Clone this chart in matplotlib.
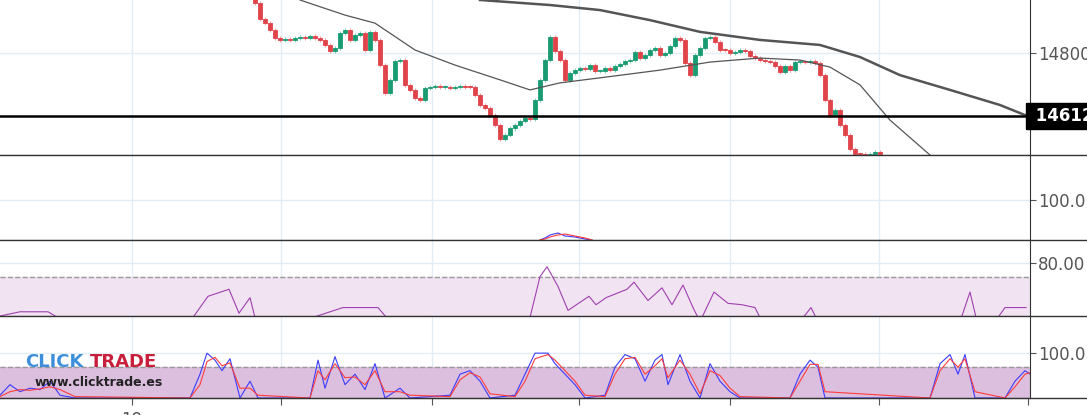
import numpy as np
import matplotlib
matplotlib.use("Agg")
import matplotlib.pyplot as plt
from matplotlib.lines import Line2D

# candle closes, one every 5 px starting at candle index 0
closes = [14950, 14900, 14890, 14870, 14845, 14840, 14842, 14838, 14845, 14848,
          14845, 14850, 14846, 14838, 14825, 14805, 14815, 14860, 14870, 14840,
          14855, 14860, 14810, 14862, 14840, 14765, 14680, 14720, 14775, 14778,
          14705, 14690, 14665, 14660, 14695, 14700, 14702, 14698, 14700, 14697,
          14700, 14702, 14700, 14698, 14675, 14645, 14635, 14615, 14585, 14545,
          14555, 14575, 14585, 14598, 14605, 14603, 14660, 14720, 14780, 14848,
          14805, 14778, 14720, 14740, 14750, 14755, 14752, 14763, 14745, 14745,
          14755, 14750, 14760, 14768, 14775, 14780, 14803, 14785, 14795, 14808,
          14815, 14795, 14800, 14822, 14845, 14840, 14770, 14735, 14795, 14815,
          14845, 14848, 14832, 14810, 14808, 14800, 14803, 14808, 14805, 14790,
          14785, 14778, 14775, 14772, 14762, 14742, 14762, 14750, 14772, 14773,
          14772, 14775, 14770, 14735, 14660, 14615, 14630, 14585, 14555, 14515,
          14500, 14498, 14497, 14500, 14505, 14498]
first_open = 14990

ma_fast_x = [9, 18, 24, 32, 40, 49, 55, 61, 69, 81, 91, 101, 109, 115, 121, 127, 135]
ma_fast_y = [14958, 14913, 14889, 14809, 14764, 14720, 14690, 14711, 14726, 14749,
             14773, 14785, 14779, 14758, 14705, 14600, 14496]
ma_slow_x = [45, 59, 69, 79, 89, 101, 113, 121, 129, 139, 149, 155]
ma_slow_y = [14958, 14943, 14928, 14898, 14863, 14839, 14824, 14788, 14734, 14690,
             14645, 14609]
level = 14612

# indicator panels, x given in pixels of the original chart
rsi_px = [0, 20, 48, 60, 120, 190, 208, 229, 239, 250, 256, 300, 343, 378, 390, 520, 530,
          540, 547, 558, 568, 589, 596, 606, 627, 634, 648, 662, 672, 683, 693, 700,
          714, 728, 742, 755, 762, 800, 811, 818, 960, 970, 977, 995, 1005, 1026]
rsi_val = [42, 45, 45, 40, 38, 38, 56, 61, 44, 55, 38, 38, 48, 48, 38, 38, 41,
           70, 77, 63, 46, 56, 50, 55, 61, 66, 53, 62, 50, 64, 48, 38,
           59, 51, 50, 48, 38, 38, 48, 38, 38, 59, 38, 38, 48, 48]

stk_px = [0, 10, 20, 30, 40, 50, 60, 75, 190, 200, 207, 215, 222, 230, 240, 250, 258,
          310, 318, 325, 335, 345, 355, 365, 375, 385, 400, 410, 450, 460, 470, 480,
          490, 515, 525, 535, 548, 555, 565, 575, 585, 605, 615, 625, 635, 645, 655,
          662, 668, 680, 690, 700, 710, 720, 730, 740, 790, 800, 810, 818, 825, 930,
          940, 950, 958, 965, 975, 1005, 1015, 1025, 1030]
stk_k = [40, 55, 45, 50, 48, 60, 40, 36, 36, 70, 100, 90, 75, 92, 36, 60, 36,
         36, 90, 50, 95, 55, 70, 48, 85, 36, 50, 36, 40, 70, 75, 60,
         36, 40, 70, 100, 100, 85, 70, 55, 36, 40, 80, 98, 92, 60, 90,
         98, 55, 98, 60, 36, 85, 60, 45, 36, 36, 70, 90, 80, 36, 36,
         85, 98, 70, 98, 36, 36, 60, 75, 70]
stk_d = [38, 45, 48, 47, 49, 52, 48, 38, 36, 55, 88, 94, 82, 86, 50, 50, 40,
         36, 75, 62, 85, 65, 66, 55, 75, 45, 45, 40, 38, 62, 72, 66,
         42, 38, 60, 92, 98, 90, 75, 60, 40, 38, 70, 92, 94, 70, 82,
         92, 65, 90, 70, 42, 75, 68, 50, 38, 36, 60, 84, 84, 45, 36,
         75, 92, 80, 92, 45, 36, 52, 70, 72]

bump_px = [540, 545, 550, 558, 565, 575, 585, 592]
bump_blue = [60, 62, 65, 67, 64, 63, 61, 60]
bump_red = [60, 61, 63, 65, 66, 64, 62, 60]

grid_idx = [-24.6, 5.2, 35.4, 64.8, 95, 124.8]
x_ticks = [-24.6, 5.2, 35.4, 64.8, 95, 124.8, 154.6]
x_labels = ["19", "", "", "", "", "", ""]

W, H = 1087, 415
fig = plt.figure(figsize=(W / 100, H / 100), dpi=100)
aw = 1030 / W
xmin, xmax = -51, 155


def px2idx(v):
    return [(p - 255) / 5 for p in v]


def panel(top, bottom):
    ax = fig.add_axes([0, (H - bottom) / H, aw, (bottom - top) / H])
    ax.set_xlim(xmin, xmax)
    for s in ["top", "left"]:
        ax.spines[s].set_visible(False)
    ax.spines["bottom"].set_color("#333333")
    ax.spines["right"].set_color("#333333")
    ax.yaxis.tick_right()
    ax.tick_params(axis="y", colors="#555555", labelsize=12, length=4, pad=2)
    ax.tick_params(axis="x", length=0, labelbottom=False)
    for g in grid_idx:
        ax.axvline(g, color="#e3edf5", lw=1, zorder=0)
    return ax


# main price panel
ax = panel(0, 155)
ax.set_ylim(14496, 14958)
ax.set_yticks([14800])
ax.set_yticklabels(["14800"])
ax.axhline(14800, color="#e3edf5", lw=1, zorder=0)
opens = [first_open] + closes[:-1]
for i, (o, c) in enumerate(zip(opens, closes)):
    col = "#1a9c72" if c >= o else "#e0434a"
    lo, hi = min(o, c), max(o, c)
    ax.vlines(i, lo - 6, hi + 6, color=col, lw=0.8, alpha=0.5)
    ax.bar(i, max(hi - lo, 3), bottom=lo, width=0.8, color=col, edgecolor=col, lw=0.6)
ax.plot(ma_fast_x, ma_fast_y, color="#555555", lw=0.9)
ax.plot(ma_slow_x, ma_slow_y, color="#555555", lw=1.8)
ax.axhline(level, color="black", lw=1.8)
ax.text(1.0, level, " 14612", transform=ax.get_yaxis_transform(), color="white",
        fontsize=12, fontweight="bold", va="center", ha="left",
        bbox=dict(boxstyle="square,pad=0.25", fc="black", ec="black"), clip_on=False)

# panel 2
ax2 = panel(155, 240)
ax2.set_ylim(60, 145)
ax2.set_yticks([100])
ax2.set_yticklabels(["100.0"])
ax2.axhline(100, color="#e3edf5", lw=1, zorder=0)
ax2.plot(px2idx(bump_px), bump_blue, color="#3b3bff", lw=0.8)
ax2.plot(px2idx(bump_px), bump_red, color="#ff3b3b", lw=0.8)

# RSI panel
ax3 = panel(240, 316)
ax3.set_ylim(42, 96)
ax3.set_yticks([80])
ax3.set_yticklabels(["80.00"])
ax3.axhline(80, color="#e3edf5", lw=1, zorder=0)
ax3.axhspan(30, 70, color="#f1e3f1", zorder=0)
ax3.axhline(70, color="#999999", lw=1, ls="--")
ax3.plot(px2idx(rsi_px), rsi_val, color="#a040b0", lw=0.8)

# stochastic panel
ax4 = panel(316, 398)
ax4.set_ylim(36, 153)
ax4.set_yticks([100])
ax4.set_yticklabels(["100.0"])
ax4.axhline(100, color="#e3edf5", lw=1, zorder=0)
ax4.axhspan(20, 80, color="#dcbfdf", zorder=0)
ax4.axhline(80, color="#999999", lw=1, ls="--")
ax4.plot(px2idx(stk_px), stk_k, color="#3b3bff", lw=0.8)
ax4.plot(px2idx(stk_px), stk_d, color="#ff3b3b", lw=0.8)
ax4.set_xticks(x_ticks)
ax4.set_xticklabels(x_labels)
ax4.tick_params(axis="x", length=5, color="#555555", labelbottom=True,
                labelsize=12, labelcolor="#555555", pad=4)

# panel separators run across the price scale too
for yp in [155, 240, 316, 398]:
    fig.add_artist(Line2D([0, 1], [1 - yp / H] * 2, color="#333333", lw=1))

fig.text(25 / W, 1 - 362 / H, "CLICK", color="#3d8fdc", fontsize=13, fontweight="bold",
         va="center")
fig.text(90 / W, 1 - 362 / H, "TRADE", color="#c8203c", fontsize=13, fontweight="bold",
         va="center")
fig.text(35 / W, 1 - 382 / H, "www.clicktrade.es", color="#222222", fontsize=9,
         fontweight="bold", va="center")

fig.savefig("out.png", dpi=100)
